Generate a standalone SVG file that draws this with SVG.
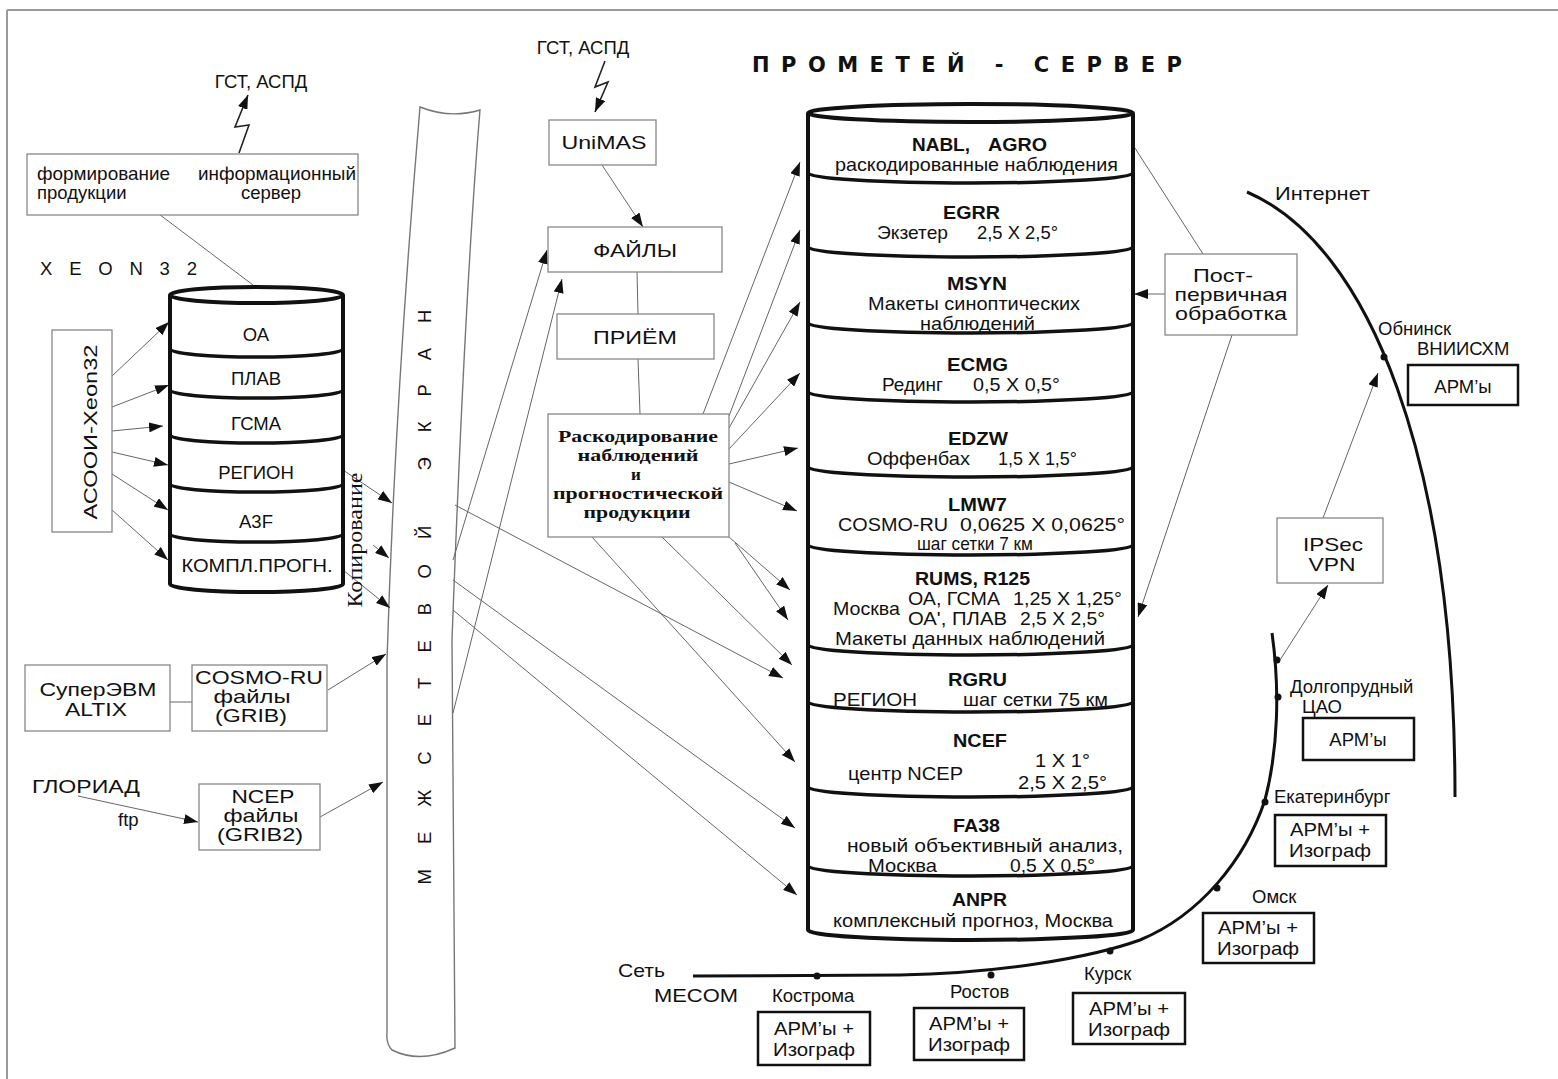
<svg xmlns="http://www.w3.org/2000/svg" width="1558" height="1079" viewBox="0 0 1558 1079">
<defs>
<marker id="ah" viewBox="0 0 14 10" refX="14" refY="5" markerWidth="14" markerHeight="10" markerUnits="userSpaceOnUse" orient="auto"><path d="M0,0 L14,5 L0,10 z" fill="#111"/></marker>
<style>
.t{font-family:"Liberation Sans",Arial,sans-serif;fill:#111;font-size:18.5px}
.b{font-weight:bold}
.m{text-anchor:middle}
.e{text-anchor:end}
.s{font-family:"Liberation Serif","Times New Roman",serif;fill:#111}
.box{fill:#fff;stroke:#888;stroke-width:1.3}
.tbox{fill:#fff;stroke:#111;stroke-width:2.5}
.cyl{fill:#fff;stroke:#111;stroke-width:4}
.div{fill:none;stroke:#111;stroke-width:3.5}
.conn{fill:none;stroke:#666;stroke-width:1}
.arr{fill:none;stroke:#666;stroke-width:1;marker-end:url(#ah)}
.bolt{fill:none;stroke:#222;stroke-width:1.6;marker-end:url(#ah)}
.net{fill:none;stroke:#111;stroke-width:3}
.fw{fill:#fff;stroke:#777;stroke-width:1.4}
</style>
</defs>
<rect width="1558" height="1079" fill="#fff"/>
<g id="frame" stroke="#9a9a9a" stroke-width="2">
<line x1="7" y1="10" x2="1558" y2="10"/>
<line x1="7" y1="10" x2="7" y2="1079"/>
</g>

<g id="firewall">
<path class="fw" d="M420,107 Q450,119 480,110 Q465,290 452,640 L455,1048 Q420,1064 392,1050 Q386,1044 387,1033 L387,660 Q395,400 420,107 Z"/>
<text class="t" transform="translate(431,597) rotate(-90)" text-anchor="middle" font-size="21" textLength="575" lengthAdjust="spacing">МЕЖСЕТЕВОЙ ЭКРАН</text>
</g>

<g id="connectors">
<polyline class="bolt" points="239,153 249,125 235,127 248,95"/>
<line class="arr" x1="253" y1="285" x2="139" y2="199"/>
<line class="arr" x1="112" y1="376" x2="169" y2="322"/>
<line class="arr" x1="112" y1="407" x2="169" y2="385"/>
<line class="arr" x1="112" y1="431" x2="163" y2="426"/>
<line class="arr" x1="112" y1="452" x2="168" y2="465"/>
<line class="arr" x1="112" y1="474" x2="168" y2="510"/>
<line class="arr" x1="112" y1="510" x2="168" y2="560"/>
<line class="arr" x1="343" y1="470" x2="392" y2="503"/>
<line class="arr" x1="373" y1="545" x2="389" y2="558"/>
<line class="arr" x1="343" y1="570" x2="390" y2="608"/>
<line class="conn" x1="170" y1="702" x2="192" y2="702"/>
<line class="arr" x1="328" y1="690" x2="386" y2="654"/>
<line class="arr" x1="78" y1="796" x2="198" y2="822"/>
<line class="arr" x1="320" y1="817" x2="383" y2="782"/>
<line class="arr" x1="453" y1="560" x2="547" y2="250"/>
<line class="arr" x1="453" y1="713" x2="562" y2="279"/>
<line class="arr" x1="455" y1="505" x2="783" y2="678"/>
<line class="arr" x1="453" y1="580" x2="795" y2="828"/>
<line class="arr" x1="453" y1="610" x2="797" y2="895"/>
<polyline class="bolt" points="605,61 595,87 608,82 595,112"/>
<line class="arr" x1="602" y1="165" x2="643" y2="227"/>
<line class="conn" x1="637" y1="272" x2="638" y2="314"/>
<line class="conn" x1="638" y1="359" x2="640" y2="414"/>
<line class="arr" x1="703" y1="414" x2="800" y2="162"/>
<line class="arr" x1="729" y1="416" x2="800" y2="230"/>
<line class="arr" x1="729" y1="428" x2="800" y2="302"/>
<line class="arr" x1="729" y1="449" x2="800" y2="373"/>
<line class="arr" x1="729" y1="464" x2="798" y2="448"/>
<line class="arr" x1="729" y1="482" x2="797" y2="511"/>
<line class="arr" x1="729" y1="537" x2="790" y2="590"/>
<line class="arr" x1="735" y1="543" x2="788" y2="620"/>
<line class="arr" x1="662" y1="537" x2="792" y2="665"/>
<line class="arr" x1="592" y1="537" x2="795" y2="762"/>
<line class="arr" x1="1165" y1="294" x2="1134" y2="294"/>
<line class="conn" x1="1203" y1="254" x2="1133" y2="145"/>
<line class="arr" x1="1232" y1="335" x2="1138" y2="617"/>
<path class="net" d="M1247,192 C1370,245 1455,460 1455,797"/>
<path class="net" stroke-width="2.2" d="M693,976 L900,975 C1000,973 1090,958 1140,940 C1200,915 1245,860 1265,800 C1278,750 1280,690 1272,633"/>
<g fill="#111">
<circle cx="1384" cy="357" r="3.5"/>
<circle cx="1277" cy="660" r="3.5"/>
<circle cx="1278" cy="697" r="3.5"/>
<circle cx="1265" cy="802" r="3.5"/>
<circle cx="1217" cy="888" r="3.5"/>
<circle cx="1110" cy="951" r="3.5"/>
<circle cx="991" cy="975" r="3.5"/>
<circle cx="817" cy="976" r="3.5"/>
</g>
<line class="arr" x1="1323" y1="518" x2="1378" y2="373"/>
<line class="arr" x1="1280" y1="660" x2="1328" y2="585"/>
</g>

<g id="gst-left">
<text class="t m" x="261" y="88" font-size="18">ГСТ, АСПД</text>
</g>
<g id="info-server">
<rect class="box" x="27" y="154" width="331" height="61"/>
<text class="t" x="37" y="180" font-size="16.5" textLength="133" lengthAdjust="spacingAndGlyphs">формирование</text>
<text class="t" x="37" y="199" font-size="16.5">продукции</text>
<text class="t" x="277" y="180" font-size="16.5" text-anchor="middle" textLength="158" lengthAdjust="spacingAndGlyphs">информационный</text>
<text class="t" x="271" y="199" font-size="16.5" text-anchor="middle">сервер</text>
</g>
<g id="xeon-label">
<text class="t" x="40" y="275" font-size="25" textLength="157" lengthAdjust="spacing">XEON32</text>
</g>

<g id="xeon32">
<path class="cyl" d="M170,295 L170,584 A86.5,8 0 0 0 343,584 L343,295"/>
<ellipse class="cyl" cx="256.5" cy="295" rx="86.5" ry="8"/>
<path class="div" d="M170,349 A86.5,8 0 0 0 343,349 M170,390 A86.5,8 0 0 0 343,390 M170,435 A86.5,8 0 0 0 343,435 M170,484 A86.5,8 0 0 0 343,484 M170,534 A86.5,8 0 0 0 343,534"/>
<g class="t m" font-size="19">
<text x="256" y="341">ОА</text>
<text x="256" y="385">ПЛАВ</text>
<text x="256" y="430">ГСМА</text>
<text x="256" y="479">РЕГИОН</text>
<text x="256" y="528">А3F</text>
<text x="257" y="572" textLength="151" lengthAdjust="spacingAndGlyphs">КОМПЛ.ПРОГН.</text>
</g>
</g>

<g id="asooi">
<rect class="box" x="52" y="330" width="60" height="202"/>
<text class="t" transform="translate(97,432) rotate(-90)" text-anchor="middle" font-size="24" textLength="175" lengthAdjust="spacingAndGlyphs">АСООИ-Xeon32</text>
</g>

<g id="copy-label">
<text class="s" transform="translate(362,540) rotate(-90)" text-anchor="middle" font-size="20" textLength="135" lengthAdjust="spacingAndGlyphs">Копирование</text>
</g>

<g id="altix">
<rect class="box" x="25" y="665" width="145" height="66"/>
<text class="t m" x="98" y="696" font-size="18" textLength="117" lengthAdjust="spacingAndGlyphs">СуперЭВМ</text>
<text class="t m" x="96" y="716" font-size="18" textLength="62" lengthAdjust="spacingAndGlyphs">ALTIX</text>
</g>
<g id="cosmo-files">
<rect class="box" x="192" y="665" width="135" height="66"/>
<text class="t m" x="259" y="684" font-size="17" textLength="128" lengthAdjust="spacingAndGlyphs">COSMO-RU</text>
<text class="t m" x="252" y="703" font-size="17" textLength="77" lengthAdjust="spacingAndGlyphs">файлы</text>
<text class="t m" x="251" y="722" font-size="17" textLength="72" lengthAdjust="spacingAndGlyphs">(GRIB)</text>
</g>
<g id="gloriad">
<text class="t" x="32" y="793" font-size="20" textLength="108" lengthAdjust="spacingAndGlyphs">ГЛОРИАД</text>
<text class="t" x="118" y="826" font-size="19">ftp</text>
</g>
<g id="ncep-files">
<rect class="box" x="199" y="784" width="121" height="66"/>
<text class="t m" x="263" y="803" font-size="17" textLength="63" lengthAdjust="spacingAndGlyphs">NCEP</text>
<text class="t m" x="261" y="822" font-size="17" textLength="75" lengthAdjust="spacingAndGlyphs">файлы</text>
<text class="t m" x="260" y="841" font-size="17" textLength="86" lengthAdjust="spacingAndGlyphs">(GRIB2)</text>
</g>

<g id="gst-mid">
<text class="t m" x="583" y="54" font-size="18">ГСТ, АСПД</text>
</g>
<g id="unimas">
<rect class="box" x="549" y="120" width="107" height="45"/>
<text class="t m" x="604" y="149" font-size="20" textLength="85" lengthAdjust="spacingAndGlyphs">UniMAS</text>
</g>
<g id="files">
<rect class="box" x="548" y="227" width="174" height="45"/>
<text class="t m" x="635" y="257" font-size="20" textLength="84" lengthAdjust="spacingAndGlyphs">ФАЙЛЫ</text>
</g>
<g id="priem">
<rect class="box" x="557" y="314" width="157" height="45"/>
<text class="t m" x="635" y="344" font-size="20" textLength="84" lengthAdjust="spacingAndGlyphs">ПРИЁМ</text>
</g>
<g id="decode">
<rect class="box" x="548" y="414" width="181" height="123"/>
<g class="s m b" font-size="17">
<text x="638" y="442" textLength="160" lengthAdjust="spacingAndGlyphs">Раскодирование</text>
<text x="638" y="461" textLength="121" lengthAdjust="spacingAndGlyphs">наблюдений</text>
<text x="636" y="480">и</text>
<text x="638" y="499" textLength="170" lengthAdjust="spacingAndGlyphs">прогностической</text>
<text x="637" y="518" textLength="107" lengthAdjust="spacingAndGlyphs">продукции</text>
</g>
</g>

<g id="server-title">
<text x="752" y="72" style="font-family:'DejaVu Sans','Liberation Sans',sans-serif;font-weight:bold;font-size:21px;fill:#111" textLength="430" lengthAdjust="spacing">ПРОМЕТЕЙ - СЕРВЕР</text>
</g>

<g id="prometey-server">
<path class="cyl" d="M808,113 L808,930 A162.5,10 0 0 0 1133,930 L1133,113"/>
<ellipse class="cyl" cx="970.5" cy="113" rx="162.5" ry="9"/>
<path class="div" d="M808,173 A162.5,10 0 0 0 1133,173 M808,247 A162.5,10 0 0 0 1133,247 M808,323 A162.5,10 0 0 0 1133,323 M808,392 A162.5,10 0 0 0 1133,392 M808,467 A162.5,10 0 0 0 1133,467 M808,545 A162.5,10 0 0 0 1133,545 M808,645 A162.5,10 0 0 0 1133,645 M808,702 A162.5,10 0 0 0 1133,702 M808,787 A162.5,10 0 0 0 1133,787 M808,866 A162.5,10 0 0 0 1133,866"/>
<g class="t">
<text class="b" x="912" y="151" textLength="58" lengthAdjust="spacingAndGlyphs">NABL,</text>
<text class="b" x="988" y="151" textLength="59" lengthAdjust="spacingAndGlyphs">AGRO</text>
<text x="835" y="171" textLength="283" lengthAdjust="spacingAndGlyphs">раскодированные наблюдения</text>
<text class="b" x="943" y="219" textLength="57" lengthAdjust="spacingAndGlyphs">EGRR</text>
<text x="877" y="239" textLength="71" lengthAdjust="spacingAndGlyphs">Экзетер</text>
<text x="977" y="239" textLength="81" lengthAdjust="spacingAndGlyphs">2,5 X 2,5°</text>
<text class="b" x="947" y="290" textLength="60" lengthAdjust="spacingAndGlyphs">MSYN</text>
<text x="868" y="310" textLength="212" lengthAdjust="spacingAndGlyphs">Макеты синоптических</text>
<text x="920" y="330" textLength="115" lengthAdjust="spacingAndGlyphs">наблюдений</text>
<text class="b" x="947" y="371" textLength="61" lengthAdjust="spacingAndGlyphs">ECMG</text>
<text x="882" y="391" textLength="61" lengthAdjust="spacingAndGlyphs">Рединг</text>
<text x="973" y="391" textLength="87" lengthAdjust="spacingAndGlyphs">0,5 X 0,5°</text>
<text class="b" x="948" y="445" textLength="60" lengthAdjust="spacingAndGlyphs">EDZW</text>
<text x="867" y="465" textLength="103" lengthAdjust="spacingAndGlyphs">Оффенбах</text>
<text x="998" y="465" textLength="79" lengthAdjust="spacingAndGlyphs">1,5 X 1,5°</text>
<text class="b" x="948" y="511" textLength="59" lengthAdjust="spacingAndGlyphs">LMW7</text>
<text x="838" y="531" textLength="110" lengthAdjust="spacingAndGlyphs">COSMO-RU</text>
<text x="960" y="531" textLength="165" lengthAdjust="spacingAndGlyphs">0,0625 X 0,0625°</text>
<text x="917" y="550" textLength="116" lengthAdjust="spacingAndGlyphs">шаг сетки 7 км</text>
<text class="b" x="915" y="585" textLength="115" lengthAdjust="spacingAndGlyphs">RUMS, R125</text>
<text x="833" y="615" textLength="67" lengthAdjust="spacingAndGlyphs">Москва</text>
<text x="908" y="605" textLength="92" lengthAdjust="spacingAndGlyphs">ОА, ГСМА</text>
<text x="1013" y="605" textLength="109" lengthAdjust="spacingAndGlyphs">1,25 X 1,25°</text>
<text x="908" y="625" textLength="99" lengthAdjust="spacingAndGlyphs">ОА', ПЛАВ</text>
<text x="1020" y="625" textLength="85" lengthAdjust="spacingAndGlyphs">2,5 X 2,5°</text>
<text x="835" y="645" textLength="270" lengthAdjust="spacingAndGlyphs">Макеты данных наблюдений</text>
<text class="b" x="948" y="686" textLength="59" lengthAdjust="spacingAndGlyphs">RGRU</text>
<text x="833" y="706" textLength="84" lengthAdjust="spacingAndGlyphs">РЕГИОН</text>
<text x="963" y="706" textLength="145" lengthAdjust="spacingAndGlyphs">шаг сетки 75 км</text>
<text class="b" x="953" y="747" textLength="54" lengthAdjust="spacingAndGlyphs">NCEF</text>
<text x="848" y="780" textLength="115" lengthAdjust="spacingAndGlyphs">центр NCEP</text>
<text x="1035" y="767" textLength="55" lengthAdjust="spacingAndGlyphs">1 X 1°</text>
<text x="1018" y="789" textLength="89" lengthAdjust="spacingAndGlyphs">2,5 X 2,5°</text>
<text class="b" x="953" y="832" textLength="47" lengthAdjust="spacingAndGlyphs">FA38</text>
<text x="847" y="852" textLength="276" lengthAdjust="spacingAndGlyphs">новый объективный анализ,</text>
<text x="868" y="872" textLength="69" lengthAdjust="spacingAndGlyphs">Москва</text>
<text x="1010" y="872" textLength="85" lengthAdjust="spacingAndGlyphs">0,5 X 0,5°</text>
<text class="b" x="952" y="906" textLength="55" lengthAdjust="spacingAndGlyphs">ANPR</text>
<text x="833" y="927" textLength="280" lengthAdjust="spacingAndGlyphs">комплексный прогноз, Москва</text>
</g>
</g>

<g id="postprocessing">
<rect class="box" x="1165" y="254" width="132" height="81"/>
<text class="t m" x="1223" y="282" font-size="18.5" textLength="60" lengthAdjust="spacingAndGlyphs">Пост-</text>
<text class="t m" x="1231" y="301" font-size="18.5" textLength="113" lengthAdjust="spacingAndGlyphs">первичная</text>
<text class="t m" x="1231" y="320" font-size="18.5" textLength="112" lengthAdjust="spacingAndGlyphs">обработка</text>
</g>

<g id="internet-label"><text class="t" x="1275" y="200" font-size="20" textLength="95" lengthAdjust="spacingAndGlyphs">Интернет</text></g>
<g id="obninsk">
<text class="t" x="1378" y="335" font-size="17.5">Обнинск</text>
<text class="t" x="1417" y="355" font-size="18.5">ВНИИСХМ</text>
<rect class="tbox" x="1408" y="365" width="110" height="40"/>
<text class="t m" x="1463" y="393" font-size="19.5">АРМ’ы</text>
</g>
<g id="ipsec">
<rect class="box" x="1277" y="518" width="106" height="65"/>
<text class="t m" x="1333" y="551" font-size="18.5" textLength="60" lengthAdjust="spacingAndGlyphs">IPSec</text>
<text class="t m" x="1332" y="571" font-size="18.5" textLength="47" lengthAdjust="spacingAndGlyphs">VPN</text>
</g>
<g id="dolgoprudny">
<text class="t" x="1290" y="693" font-size="19">Долгопрудный</text>
<text class="t" x="1302" y="713" font-size="19">ЦАО</text>
<rect class="tbox" x="1303" y="718" width="111" height="42"/>
<text class="t m" x="1358" y="746" font-size="19.5">АРМ’ы</text>
</g>
<g id="ekaterinburg">
<text class="t" x="1274" y="803" font-size="18.5">Екатеринбург</text>
<rect class="tbox" x="1275" y="815" width="111" height="51"/>
<text class="t m" x="1330" y="836" textLength="80" lengthAdjust="spacingAndGlyphs">АРМ’ы +</text>
<text class="t m" x="1330" y="857" textLength="82" lengthAdjust="spacingAndGlyphs">Изограф</text>
</g>
<g id="omsk">
<text class="t" x="1252" y="903" font-size="18.5">Омск</text>
<rect class="tbox" x="1203" y="913" width="111" height="50"/>
<text class="t m" x="1258" y="934" textLength="80" lengthAdjust="spacingAndGlyphs">АРМ’ы +</text>
<text class="t m" x="1258" y="955" textLength="82" lengthAdjust="spacingAndGlyphs">Изограф</text>
</g>
<g id="kursk">
<text class="t" x="1084" y="980" font-size="18.5">Курск</text>
<rect class="tbox" x="1073" y="993" width="112" height="51"/>
<text class="t m" x="1129" y="1015" textLength="80" lengthAdjust="spacingAndGlyphs">АРМ’ы +</text>
<text class="t m" x="1129" y="1036" textLength="82" lengthAdjust="spacingAndGlyphs">Изограф</text>
</g>
<g id="rostov">
<text class="t" x="950" y="998" font-size="18.5">Ростов</text>
<rect class="tbox" x="914" y="1008" width="110" height="52"/>
<text class="t m" x="969" y="1030" textLength="80" lengthAdjust="spacingAndGlyphs">АРМ’ы +</text>
<text class="t m" x="969" y="1051" textLength="82" lengthAdjust="spacingAndGlyphs">Изограф</text>
</g>
<g id="kostroma">
<text class="t" x="772" y="1002" font-size="18.5">Кострома</text>
<rect class="tbox" x="758" y="1012" width="112" height="53"/>
<text class="t m" x="814" y="1035" textLength="80" lengthAdjust="spacingAndGlyphs">АРМ’ы +</text>
<text class="t m" x="814" y="1056" textLength="82" lengthAdjust="spacingAndGlyphs">Изограф</text>
</g>
<g id="mecom-label">
<text class="t" x="618" y="977" font-size="20" textLength="47" lengthAdjust="spacingAndGlyphs">Сеть</text>
<text class="t" x="654" y="1002" font-size="20" textLength="84" lengthAdjust="spacingAndGlyphs">MECOM</text>
</g>
</svg>
